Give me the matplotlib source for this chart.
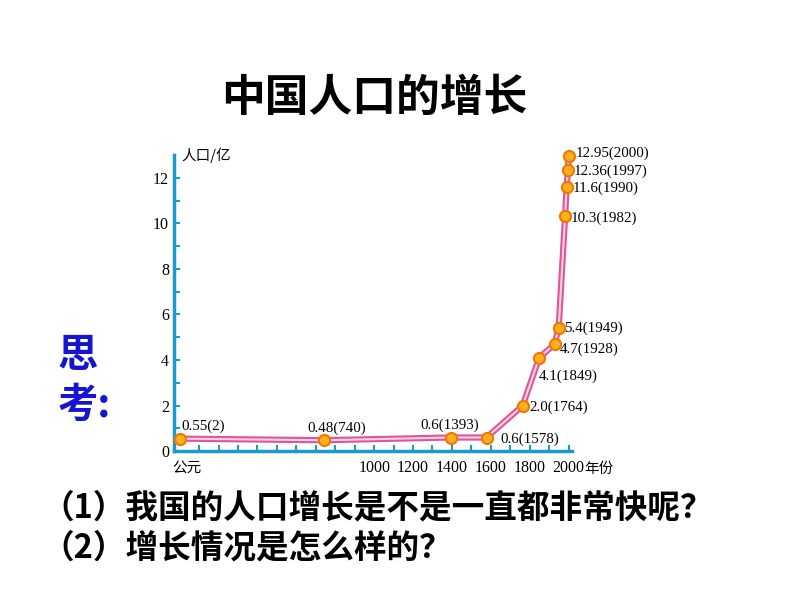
import matplotlib.pyplot as plt
import numpy as np

plt.rcParams['font.family'] = ['Noto Sans CJK SC', 'DejaVu Sans']

# 中国人口 (亿) 与年份
years = [2, 740, 1393, 1578, 1764, 1849, 1928, 1949, 1982, 1990, 1997, 2000]
pop = [0.55, 0.48, 0.6, 0.6, 2.0, 4.1, 4.7, 5.4, 10.3, 11.6, 12.36, 12.95]
labels = ['0.55(2)', '0.48(740)', '0.6(1393)', '0.6(1578)', '2.0(1764)', '4.1(1849)',
          '4.7(1928)', '5.4(1949)', '10.3(1982)', '11.6(1990)', '12.36(1997)', '12.95(2000)']
# label offsets in points (dx, dy, ha, va)
offs = [(1, 4, 'left', 'bottom'), (-12, 4, 'left', 'bottom'), (-22, 4, 'left', 'bottom'),
        (10, -1, 'left', 'center'), (5, -1, 'left', 'center'), (0, -13, 'left', 'center'),
        (4, -4, 'left', 'center'), (4, 0, 'left', 'center'), (4, -1, 'left', 'center'),
        (4, -1, 'left', 'center'), (4, -1, 'left', 'center'), (5, 2, 'left', 'center')]

xticks = [1000, 1200, 1400, 1600, 1800, 2000]
yticks = [0, 2, 4, 6, 8, 10, 12]

axis_c = '#1b9bc9'

fig = plt.figure(figsize=(7.94, 5.96), dpi=100)
fig.text(0.471, 0.835, '中国人口的增长', fontsize=31.5, fontweight='bold', ha='center', va='center')
fig.text(0.072, 0.362, '思\n考:', fontsize=29, fontweight='bold', color='#1414d2',
         ha='left', va='center', linespacing=1.28)
fig.text(0.052, 0.147, '（1）我国的人口增长是不是一直都非常快呢？', fontsize=23.5, fontweight='bold',
         ha='left', va='center')
fig.text(0.052, 0.080, '（2）增长情况是怎么样的？', fontsize=23.5, fontweight='bold',
         ha='left', va='center')

ax = fig.add_axes([0.219, 0.243, 0.502, 0.497])
ax.plot(years, pop, color='#e0559a', lw=4.5, solid_capstyle='round', zorder=2, clip_on=False)
ax.plot(years, pop, color='#fbd3e6', lw=1.5, solid_capstyle='round', zorder=3, clip_on=False)
ax.plot(years, pop, 'o', ms=8, mfc='#ffb020', mec='#f07800', mew=1.5, zorder=4, clip_on=False)

for x, y, t, (dx, dy, ha, va) in zip(years, pop, labels, offs):
    ax.annotate(t, (x, y), textcoords='offset points', xytext=(dx, dy), ha=ha, va=va,
                fontsize=10.8, family='Liberation Serif', zorder=5)

ax.set_xlim(-30, 2020)
ax.set_ylim(0, 13)
ax.set_xticks(xticks)
ax.set_xticks(np.arange(100, 2001, 100), minor=True)
ax.set_yticks(yticks)
ax.set_yticks(np.arange(1, 13, 1), minor=True)
for lab in ax.get_xticklabels() + ax.get_yticklabels():
    lab.set_family('Liberation Serif')
    lab.set_fontsize(11.5)
ax.tick_params(which='both', direction='in', color=axis_c, width=1.5, length=4)
ax.tick_params(axis='x', pad=6)
for s in ['top', 'right']:
    ax.spines[s].set_visible(False)
for s in ['left', 'bottom']:
    ax.spines[s].set_color(axis_c)
    ax.spines[s].set_linewidth(2.5)

ax.text(-0.005, -0.035, '公元', transform=ax.transAxes, fontsize=10.5, ha='left', va='top')
ax.text(1.03, -0.035, '年份', transform=ax.transAxes, fontsize=10.5, ha='left', va='top')
ax.text(0.02, 1.0, '人口/亿', transform=ax.transAxes, fontsize=10.5, ha='left', va='center')

fig.savefig('out.png', dpi=100)
